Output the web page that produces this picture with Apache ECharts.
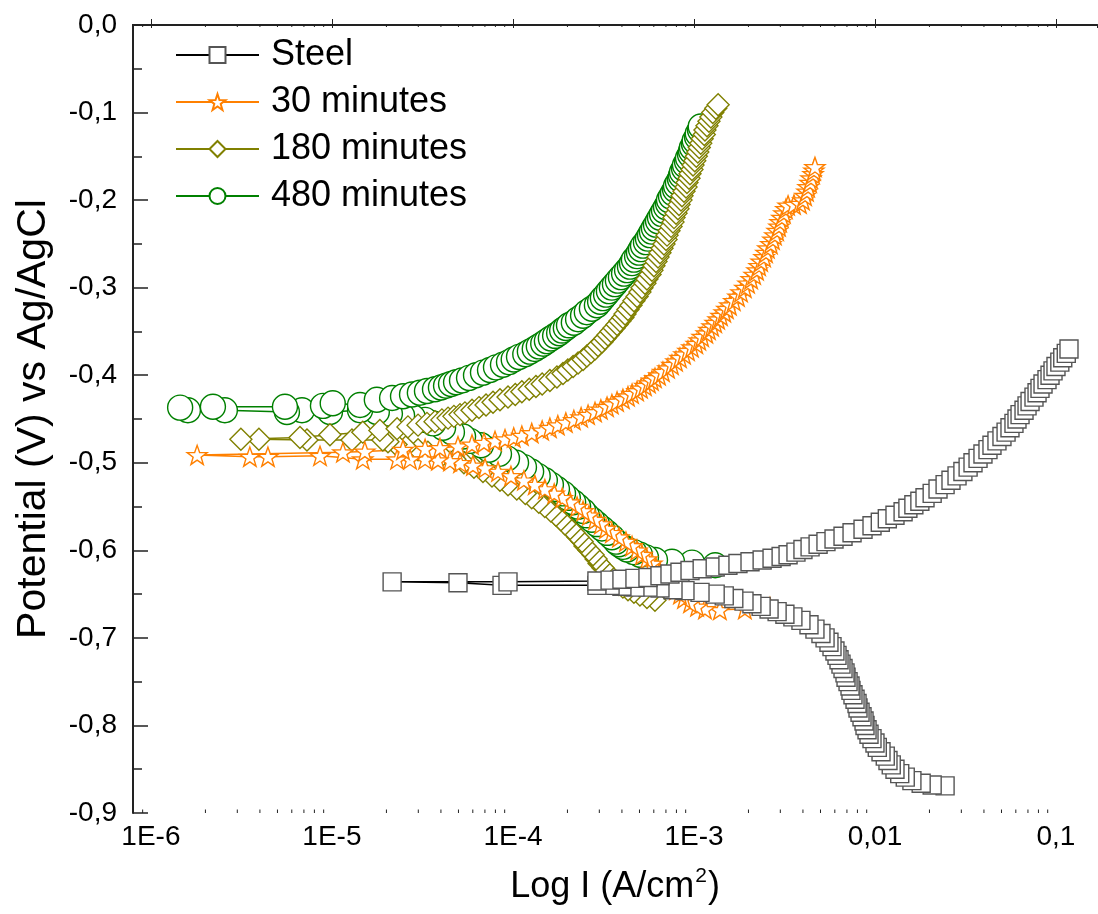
<!DOCTYPE html>
<html><head><meta charset="utf-8">
<script src="https://cdn.jsdelivr.net/npm/echarts@6/dist/echarts.min.js"></script>
<style>html,body{margin:0;padding:0;background:#fff}#c{width:1098px;height:914px}</style>
</head><body><div id="c"></div>
<script>
// ---- data: current density I (A/cm2) and potential E (V vs Ag/AgCl), in scan order ----
// Steel
const steelCathI = [2.44e-2,2.07e-2,1.80e-2,1.60e-2,1.47e-2,1.37e-2,1.29e-2,1.23e-2,1.18e-2,1.14e-2,1.08e-2,1.03e-2,1.00e-2,9.63e-3,9.27e-3,9.04e-3,8.81e-3,8.70e-3,8.48e-3,8.27e-3,8.06e-3,7.96e-3,7.76e-3,7.56e-3,7.37e-3,7.28e-3,7.10e-3,6.92e-3,6.83e-3,6.66e-3,6.49e-3,6.33e-3,6.17e-3,6.01e-3,5.79e-3,5.57e-3,5.30e-3,5.03e-3,4.66e-3,4.32e-3,3.90e-3,3.52e-3,3.18e-3,2.88e-3,2.60e-3,2.35e-3,2.09e-3,1.89e-3,1.66e-3,1.47e-3,1.31e-3,1.08e-3,8.92e-4,7.66e-4,6.49e-4,5.57e-4,4.72e-4,4.00e-4,3.44e-4,2.91e-4,8.70e-5,4.97e-5,2.15e-5,9.39e-5,2.91e-4];
const steelCathE = [-0.869,-0.868,-0.866,-0.863,-0.859,-0.855,-0.850,-0.845,-0.840,-0.835,-0.830,-0.825,-0.820,-0.815,-0.810,-0.805,-0.800,-0.795,-0.790,-0.785,-0.780,-0.775,-0.770,-0.765,-0.760,-0.755,-0.750,-0.745,-0.740,-0.735,-0.730,-0.725,-0.720,-0.715,-0.710,-0.705,-0.700,-0.695,-0.690,-0.685,-0.680,-0.676,-0.673,-0.670,-0.667,-0.664,-0.661,-0.658,-0.655,-0.652,-0.650,-0.648,-0.646,-0.645,-0.643,-0.642,-0.642,-0.641,-0.640,-0.640,-0.640,-0.637,-0.636,-0.636,-0.635];
const steelAnodI = [3.44e-4,4.00e-4,4.72e-4,5.57e-4,6.49e-4,7.37e-4,8.37e-4,9.51e-4,1.11e-3,1.31e-3,1.54e-3,1.75e-3,2.04e-3,2.38e-3,2.70e-3,3.03e-3,3.31e-3,3.66e-3,4.00e-3,4.38e-3,4.85e-3,5.36e-3,5.94e-3,6.66e-3,7.47e-3,8.59e-3,9.63e-3,1.07e-2,1.17e-2,1.29e-2,1.43e-2,1.52e-2,1.64e-2,1.77e-2,1.89e-2,2.07e-2,2.23e-2,2.44e-2,2.63e-2,2.84e-2,3.06e-2,3.27e-2,3.48e-2,3.71e-2,3.95e-2,4.21e-2,4.43e-2,4.72e-2,5.03e-2,5.30e-2,5.57e-2,5.86e-2,6.09e-2,6.33e-2,6.66e-2,6.92e-2,7.19e-2,7.56e-2,7.86e-2,8.16e-2,8.48e-2,8.92e-2,9.27e-2,9.63e-2,0.100,0.105,0.109,0.114,0.118];
const steelAnodE = [-0.634,-0.633,-0.632,-0.631,-0.629,-0.627,-0.625,-0.623,-0.621,-0.619,-0.617,-0.615,-0.613,-0.611,-0.609,-0.607,-0.605,-0.602,-0.599,-0.596,-0.593,-0.590,-0.587,-0.584,-0.580,-0.576,-0.572,-0.568,-0.564,-0.560,-0.556,-0.552,-0.548,-0.544,-0.540,-0.535,-0.530,-0.525,-0.520,-0.515,-0.510,-0.505,-0.500,-0.495,-0.490,-0.485,-0.480,-0.475,-0.470,-0.465,-0.460,-0.455,-0.450,-0.445,-0.440,-0.435,-0.430,-0.425,-0.420,-0.415,-0.410,-0.405,-0.400,-0.395,-0.390,-0.385,-0.380,-0.375,-0.370];

// 30 minutes
const m30CathI = [2.63e-3,1.91e-3,1.39e-3,1.15e-3,1.04e-3,9.51e-4,8.81e-4,8.37e-4,7.96e-4,7.47e-4,7.19e-4,6.83e-4,6.49e-4,6.17e-4,5.86e-4,5.50e-4,5.16e-4,4.85e-4,4.55e-4,4.21e-4,3.85e-4,3.52e-4,3.27e-4,3.06e-4,2.84e-4,2.63e-4,2.44e-4,2.26e-4,2.07e-4,1.87e-4,1.69e-4,1.50e-4,1.32e-4,1.15e-4,9.75e-5,8.27e-5,7.01e-5,6.01e-5,5.10e-5,4.49e-5,3.85e-5,3.27e-5,2.70e-5,2.29e-5,1.48e-5,8.59e-6,4.43e-6,3.52e-6,1.80e-6];
const m30CathE = [-0.665,-0.667,-0.668,-0.667,-0.664,-0.660,-0.655,-0.650,-0.645,-0.640,-0.635,-0.630,-0.625,-0.620,-0.615,-0.610,-0.605,-0.600,-0.595,-0.590,-0.585,-0.580,-0.575,-0.570,-0.565,-0.560,-0.555,-0.550,-0.545,-0.540,-0.535,-0.530,-0.525,-0.520,-0.515,-0.510,-0.506,-0.503,-0.500,-0.498,-0.497,-0.496,-0.496,-0.496,-0.496,-0.492,-0.493,-0.493,-0.491];
const m30AnodI = [1.15e-5,1.52e-5,2.47e-5,3.27e-5,3.95e-5,4.97e-5,5.94e-5,6.92e-5,7.96e-5,9.04e-5,1.01e-4,1.12e-4,1.27e-4,1.45e-4,1.60e-4,1.77e-4,1.96e-4,2.17e-4,2.38e-4,2.60e-4,2.84e-4,3.06e-4,3.31e-4,3.52e-4,3.76e-4,4.05e-4,4.32e-4,4.55e-4,4.85e-4,5.10e-4,5.36e-4,5.64e-4,5.86e-4,6.09e-4,6.41e-4,6.74e-4,7.19e-4,7.56e-4,7.96e-4,8.37e-4,8.81e-4,9.27e-4,9.75e-4,1.03e-3,1.07e-3,1.11e-3,1.17e-3,1.21e-3,1.26e-3,1.31e-3,1.36e-3,1.41e-3,1.47e-3,1.52e-3,1.58e-3,1.66e-3,1.75e-3,1.82e-3,1.91e-3,1.99e-3,2.07e-3,2.15e-3,2.23e-3,2.29e-3,2.35e-3,2.44e-3,2.50e-3,2.56e-3,2.66e-3,2.73e-3,2.80e-3,2.88e-3,2.95e-3,2.99e-3,3.06e-3,3.14e-3,3.22e-3,3.31e-3,3.57e-3,3.85e-3,4.00e-3,4.11e-3,4.21e-3,4.27e-3,4.38e-3,4.43e-3,4.55e-3,4.60e-3,4.66e-3];
const m30AnodE = [-0.488,-0.487,-0.485,-0.484,-0.483,-0.481,-0.479,-0.477,-0.475,-0.473,-0.471,-0.469,-0.466,-0.463,-0.460,-0.457,-0.454,-0.451,-0.448,-0.445,-0.442,-0.439,-0.436,-0.433,-0.430,-0.427,-0.424,-0.421,-0.418,-0.415,-0.412,-0.409,-0.406,-0.403,-0.400,-0.396,-0.392,-0.388,-0.384,-0.380,-0.376,-0.372,-0.368,-0.364,-0.360,-0.356,-0.352,-0.348,-0.344,-0.340,-0.336,-0.332,-0.328,-0.324,-0.320,-0.315,-0.310,-0.305,-0.300,-0.295,-0.290,-0.285,-0.280,-0.275,-0.270,-0.265,-0.260,-0.255,-0.250,-0.245,-0.240,-0.235,-0.230,-0.225,-0.220,-0.215,-0.210,-0.206,-0.205,-0.204,-0.200,-0.195,-0.190,-0.185,-0.180,-0.175,-0.170,-0.166,-0.162];

// 180 minutes
const m180CathI = [6.09e-4,5.50e-4,5.03e-4,4.66e-4,4.32e-4,4.05e-4,3.85e-4,3.71e-4,3.57e-4,3.48e-4,3.31e-4,3.14e-4,2.99e-4,2.88e-4,2.77e-4,2.63e-4,2.50e-4,2.41e-4,2.29e-4,2.17e-4,2.07e-4,1.94e-4,1.84e-4,1.73e-4,1.62e-4,1.50e-4,1.39e-4,1.27e-4,1.17e-4,1.05e-4,9.39e-5,8.48e-5,7.66e-5,6.83e-5,6.09e-5,5.36e-5,4.78e-5,4.05e-5,3.39e-5,2.99e-5,2.56e-5,2.26e-5,2.04e-5,1.91e-5,1.29e-5,7.28e-6,3.95e-6,3.14e-6];
const m180CathE = [-0.657,-0.654,-0.651,-0.648,-0.645,-0.642,-0.639,-0.636,-0.633,-0.630,-0.625,-0.620,-0.615,-0.610,-0.605,-0.600,-0.595,-0.590,-0.585,-0.580,-0.575,-0.570,-0.565,-0.560,-0.555,-0.550,-0.545,-0.540,-0.535,-0.530,-0.525,-0.520,-0.515,-0.510,-0.505,-0.500,-0.496,-0.492,-0.488,-0.485,-0.482,-0.479,-0.476,-0.474,-0.474,-0.474,-0.473,-0.473];
const m180AnodI = [6.66e-6,9.75e-6,1.48e-5,1.84e-5,2.29e-5,2.63e-5,2.99e-5,3.35e-5,3.71e-5,4.05e-5,4.38e-5,4.72e-5,5.10e-5,5.43e-5,5.94e-5,6.49e-5,7.10e-5,7.76e-5,8.48e-5,9.39e-5,1.03e-4,1.12e-4,1.23e-4,1.34e-4,1.45e-4,1.60e-4,1.75e-4,1.89e-4,2.01e-4,2.15e-4,2.29e-4,2.44e-4,2.56e-4,2.70e-4,2.84e-4,2.95e-4,3.10e-4,3.22e-4,3.35e-4,3.48e-4,3.62e-4,3.76e-4,3.90e-4,4.05e-4,4.16e-4,4.32e-4,4.49e-4,4.66e-4,4.85e-4,5.03e-4,5.16e-4,5.36e-4,5.50e-4,5.72e-4,5.86e-4,6.01e-4,6.17e-4,6.33e-4,6.49e-4,6.66e-4,6.83e-4,7.01e-4,7.10e-4,7.28e-4,7.47e-4,7.66e-4,7.76e-4,7.96e-4,8.16e-4,8.27e-4,8.48e-4,8.59e-4,8.81e-4,9.04e-4,9.15e-4,9.39e-4,9.51e-4,9.75e-4,9.88e-4,1.01e-3,1.03e-3,1.05e-3,1.07e-3,1.09e-3,1.11e-3,1.14e-3,1.15e-3,1.18e-3,1.21e-3,1.24e-3,1.27e-3,1.32e-3,1.36e-3];
const m180AnodE = [-0.471,-0.468,-0.465,-0.463,-0.461,-0.459,-0.457,-0.455,-0.453,-0.451,-0.449,-0.447,-0.445,-0.443,-0.440,-0.437,-0.434,-0.431,-0.428,-0.425,-0.422,-0.419,-0.416,-0.413,-0.410,-0.406,-0.402,-0.398,-0.394,-0.390,-0.386,-0.382,-0.378,-0.374,-0.370,-0.366,-0.362,-0.358,-0.354,-0.350,-0.346,-0.342,-0.338,-0.334,-0.330,-0.325,-0.320,-0.315,-0.310,-0.305,-0.300,-0.295,-0.290,-0.285,-0.280,-0.275,-0.270,-0.265,-0.260,-0.255,-0.250,-0.245,-0.240,-0.235,-0.230,-0.225,-0.220,-0.215,-0.210,-0.205,-0.200,-0.195,-0.190,-0.185,-0.180,-0.175,-0.170,-0.165,-0.160,-0.155,-0.150,-0.145,-0.140,-0.135,-0.130,-0.125,-0.120,-0.115,-0.110,-0.105,-0.100,-0.095,-0.091];

// 480 minutes
const m480CathI = [1.31e-3,9.75e-4,7.56e-4,6.09e-4,5.43e-4,5.03e-4,4.66e-4,4.27e-4,4.05e-4,3.85e-4,3.71e-4,3.52e-4,3.31e-4,3.10e-4,2.91e-4,2.73e-4,2.56e-4,2.44e-4,2.29e-4,2.15e-4,2.01e-4,1.89e-4,1.75e-4,1.62e-4,1.50e-4,1.37e-4,1.26e-4,1.15e-4,1.04e-4,9.27e-5,8.37e-5,7.37e-5,6.66e-5,5.79e-5,5.30e-5,4.60e-5,4.11e-5,3.62e-5,3.27e-5,2.80e-5,2.44e-5,2.09e-5,1.77e-5,1.43e-5,9.75e-6,6.83e-6,5.64e-6,2.56e-6,1.60e-6,1.45e-6];
const m480CathE = [-0.617,-0.614,-0.613,-0.611,-0.608,-0.605,-0.602,-0.599,-0.596,-0.593,-0.590,-0.585,-0.580,-0.575,-0.570,-0.565,-0.560,-0.555,-0.550,-0.545,-0.540,-0.535,-0.530,-0.525,-0.520,-0.515,-0.510,-0.505,-0.500,-0.495,-0.490,-0.485,-0.480,-0.475,-0.470,-0.465,-0.460,-0.455,-0.451,-0.448,-0.446,-0.444,-0.442,-0.440,-0.442,-0.440,-0.442,-0.440,-0.440,-0.437];
const m480AnodI = [2.20e-6,5.50e-6,8.92e-6,1.01e-5,1.43e-5,1.77e-5,2.15e-5,2.47e-5,2.77e-5,3.06e-5,3.35e-5,3.71e-5,4.00e-5,4.27e-5,4.55e-5,4.85e-5,5.23e-5,5.72e-5,6.25e-5,6.83e-5,7.47e-5,8.06e-5,8.81e-5,9.51e-5,1.01e-4,1.08e-4,1.17e-4,1.24e-4,1.32e-4,1.39e-4,1.47e-4,1.54e-4,1.62e-4,1.71e-4,1.80e-4,1.87e-4,1.96e-4,2.04e-4,2.17e-4,2.29e-4,2.44e-4,2.56e-4,2.73e-4,2.91e-4,3.03e-4,3.14e-4,3.27e-4,3.39e-4,3.52e-4,3.66e-4,3.80e-4,3.95e-4,4.11e-4,4.27e-4,4.43e-4,4.55e-4,4.66e-4,4.85e-4,4.97e-4,5.10e-4,5.23e-4,5.43e-4,5.57e-4,5.72e-4,5.86e-4,6.01e-4,6.17e-4,6.33e-4,6.49e-4,6.66e-4,6.83e-4,7.01e-4,7.19e-4,7.28e-4,7.47e-4,7.66e-4,7.86e-4,7.96e-4,8.16e-4,8.37e-4,8.48e-4,8.59e-4,8.81e-4,8.92e-4,9.15e-4,9.27e-4,9.51e-4,9.63e-4,9.75e-4,1.00e-3,1.01e-3,1.04e-3,1.05e-3,1.08e-3,1.09e-3];
const m480AnodE = [-0.436,-0.436,-0.435,-0.432,-0.434,-0.428,-0.426,-0.424,-0.422,-0.420,-0.418,-0.416,-0.414,-0.412,-0.410,-0.408,-0.406,-0.403,-0.400,-0.397,-0.394,-0.391,-0.388,-0.385,-0.382,-0.379,-0.376,-0.373,-0.370,-0.367,-0.364,-0.361,-0.358,-0.355,-0.352,-0.349,-0.346,-0.343,-0.340,-0.336,-0.332,-0.328,-0.324,-0.320,-0.316,-0.312,-0.308,-0.304,-0.300,-0.296,-0.292,-0.288,-0.284,-0.280,-0.276,-0.272,-0.268,-0.264,-0.260,-0.256,-0.252,-0.248,-0.244,-0.240,-0.236,-0.232,-0.228,-0.224,-0.220,-0.216,-0.212,-0.208,-0.204,-0.200,-0.196,-0.192,-0.188,-0.184,-0.180,-0.176,-0.172,-0.168,-0.164,-0.160,-0.156,-0.152,-0.148,-0.144,-0.140,-0.136,-0.132,-0.128,-0.124,-0.120,-0.116];

const seriesNames = ['Steel','30 minutes','180 minutes','480 minutes'];
const xTickLabels = ['1E-6','1E-5','1E-4','1E-3','0,01','0,1'];
const yTickLabels = ['-0,9','-0,8','-0,7','-0,6','-0,5','-0,4','-0,3','-0,2','-0,1','0,0'];
const xMinorTicks = [9e-7,2e-6,3e-6,4e-6,5e-6,6e-6,7e-6,8e-6,9e-6,2e-5,3e-5,4e-5,5e-5,6e-5,7e-5,8e-5,9e-5,2e-4,3e-4,4e-4,5e-4,6e-4,7e-4,8e-4,9e-4,2e-3,3e-3,4e-3,5e-3,6e-3,7e-3,8e-3,9e-3,0.02,0.03,0.04,0.05,0.06,0.07,0.08,0.09];

const X_MIN = 7.96e-7, X_MAX = 0.1685, Y_MIN = -0.9, Y_MAX = 0;
const zip = (I, E) => I.map((v, i) => [v, E[i]]);
const FONT = 'Liberation Sans, Arial, sans-serif';
const STAR = 'path://M0,-10 L2.35,-3.24 L9.51,-3.09 L3.8,1.24 L5.88,8.09 L0,4 L-5.88,8.09 L-3.8,1.24 L-9.51,-3.09 L-2.35,-3.24 Z';

function lineSeries(name, data, symbol, size, stroke, lineColor) {
  return {
    name, type: 'line', data, symbol, symbolSize: size, symbolKeepAspect: true,
    showSymbol: true, showAllSymbol: true, clip: true,
    lineStyle: { color: lineColor, width: 1.5 },
    itemStyle: { color: '#fff', borderColor: stroke, borderWidth: 1.4 },
    emphasis: { disabled: true }
  };
}
function tickSeries(yVal, len) {
  return {
    type: 'custom', silent: true, z: 10, clip: false,
    data: xMinorTicks.map(v => [v, yVal]),
    renderItem: (params, api) => {
      const p = api.coord([api.value(0), yVal]);
      return { type: 'line', shape: { x1: p[0], y1: p[1], x2: p[0], y2: p[1] + len },
               style: { stroke: '#222', lineWidth: 1 } };
    }
  };
}

const chart = echarts.init(document.getElementById('c'), null, { renderer: 'canvas' });
chart.setOption({
  animation: false,
  backgroundColor: '#fff',
  textStyle: { fontFamily: FONT },
  grid: { left: 133, top: 25, right: 1, bottom: 101, containLabel: false },
  legend: {
    data: seriesNames, left: 175, top: 35, orient: 'vertical', padding: 0,
    itemWidth: 83, itemHeight: 20, itemGap: 7,
    textStyle: { fontSize: 36, color: '#000', lineHeight: 40, padding: [0, 0, 0, 7], fontFamily: FONT },
    selectedMode: false
  },
  xAxis: [{
    type: 'log', logBase: 10, min: X_MIN, max: X_MAX, position: 'bottom',
    axisLine: { show: true, lineStyle: { color: '#222', width: 2 } },
    axisTick: { show: true, inside: true, length: 6, lineStyle: { color: '#222', width: 1 } },
    splitLine: { show: false },
    axisLabel: {
      showMinLabel: false, showMaxLabel: false, margin: 10, fontSize: 28, color: '#000', fontFamily: FONT,
      formatter: v => xTickLabels[Math.round(Math.log10(v)) + 6] || ''
    },
    name: '{a|Log I (A/cm}{s|2}{a|)}', nameLocation: 'middle', nameGap: 52,
    nameTextStyle: { rich: {
      a: { fontSize: 36, color: '#000', fontFamily: FONT, lineHeight: 44 },
      s: { fontSize: 21, color: '#000', fontFamily: FONT, lineHeight: 44, padding: [0, 1, 22, 1] }
    } }
  }, {
    type: 'log', logBase: 10, min: X_MIN, max: X_MAX, position: 'top',
    axisLine: { show: true, lineStyle: { color: '#222', width: 2 } },
    axisTick: { show: true, inside: true, length: 3, lineStyle: { color: '#222', width: 1 } },
    axisLabel: { show: false }, splitLine: { show: false }
  }],
  yAxis: {
    type: 'value', min: Y_MIN, max: Y_MAX, interval: 0.1,
    axisLine: { show: true, lineStyle: { color: '#222', width: 2 } },
    axisTick: { show: true, inside: true, length: 15, lineStyle: { color: '#222', width: 1.5 } },
    minorTick: { show: true, splitNumber: 2, length: 9, lineStyle: { color: '#222', width: 1.5 } },
    splitLine: { show: false },
    axisLabel: { margin: 16, fontSize: 28, color: '#000', fontFamily: FONT,
      formatter: v => yTickLabels[Math.round((v - Y_MIN) / 0.1)] },
    name: 'Potential (V) vs Ag/AgCl', nameLocation: 'middle', nameGap: 79, nameRotate: 90,
    nameTextStyle: { fontSize: 41, color: '#000', fontFamily: FONT }
  },
  series: [
    lineSeries('480 minutes', zip(m480CathI, m480CathE).concat(zip(m480AnodI, m480AnodE)), 'circle', 25, '#008000', '#008000'),
    lineSeries('180 minutes', zip(m180CathI, m180CathE).concat(zip(m180AnodI, m180AnodE)), 'diamond', 22, '#808000', '#808000'),
    lineSeries('30 minutes', zip(m30CathI, m30CathE).concat(zip(m30AnodI, m30AnodE)), STAR, 20, '#FF8000', '#FF8000'),
    lineSeries('Steel', zip(steelCathI, steelCathE).concat(zip(steelAnodI, steelAnodE)), 'rect', 18, '#555', '#000'),
    tickSeries(Y_MIN, -3.5),
    tickSeries(Y_MAX, 2)
  ]
});
</script></body></html>
